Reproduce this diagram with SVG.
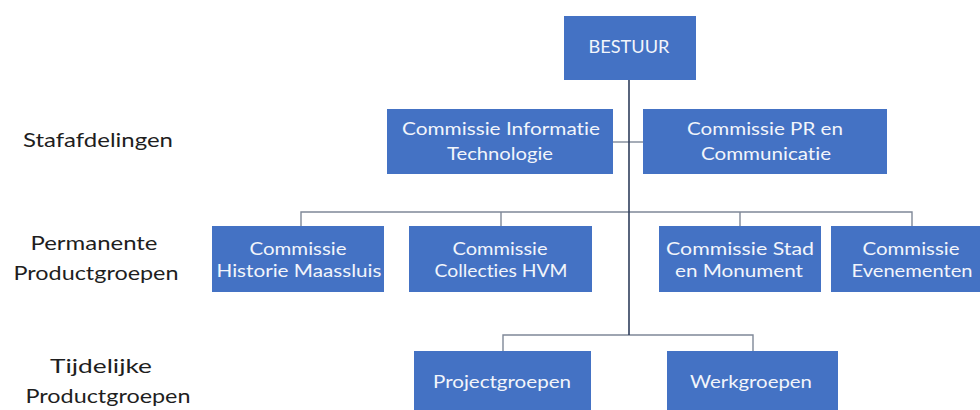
<svg xmlns="http://www.w3.org/2000/svg" width="980" height="410" viewBox="0 0 980 410">
<style>
.box{fill:#4472C4;}
.t{font-family:Lato,"Open Sans","Liberation Sans",sans-serif;font-size:18px;fill:#F2F5FB;text-anchor:middle;font-variant-ligatures:none;}
.lab{font-family:Lato,"Open Sans","Liberation Sans",sans-serif;font-size:20px;fill:#1E1E1E;text-anchor:middle;font-variant-ligatures:none;}
.main{stroke:#2F3E5C;stroke-width:1.6;fill:none;}
.sub{stroke:#7F8898;stroke-width:1.4;fill:none;}
</style>
<rect width="980" height="410" fill="#FFFFFF"/>
<g id="connectors">
<path class="sub" d="M301,226 V212 H912 V226 M501,212 V226 M740,212 V226"/>
<path class="sub" d="M503,351 V335 H753 V351"/>
<path class="sub" d="M613,142 H643"/>
<path class="main" d="M629,80 V335"/>
</g>
<g id="labels">
<text class="lab" x="98" y="147" textLength="150" lengthAdjust="spacingAndGlyphs">Stafafdelingen</text>
<text class="lab" x="94" y="250" textLength="127" lengthAdjust="spacingAndGlyphs">Permanente</text>
<text class="lab" x="96" y="280" textLength="165" lengthAdjust="spacingAndGlyphs">Productgroepen</text>
<text class="lab" x="101" y="373" textLength="102" lengthAdjust="spacingAndGlyphs">Tijdelijke</text>
<text class="lab" x="108" y="403" textLength="165" lengthAdjust="spacingAndGlyphs">Productgroepen</text>
</g>
<g id="bestuur">
<rect class="box" x="564" y="16" width="132" height="64"/>
<text class="t" x="629" y="53" font-size="19" textLength="81" lengthAdjust="spacingAndGlyphs">BESTUUR</text>
</g>
<g id="commissie-it">
<rect class="box" x="387" y="109" width="226" height="65"/>
<text class="t" x="501" y="135" textLength="198" lengthAdjust="spacingAndGlyphs">Commissie Informatie</text>
<text class="t" x="500" y="160" textLength="106" lengthAdjust="spacingAndGlyphs">Technologie</text>
</g>
<g id="commissie-pr">
<rect class="box" x="643" y="109" width="244" height="65"/>
<text class="t" x="765" y="135" textLength="156" lengthAdjust="spacingAndGlyphs">Commissie PR en</text>
<text class="t" x="766" y="160" textLength="130" lengthAdjust="spacingAndGlyphs">Communicatie</text>
</g>
<g id="commissie-historie">
<rect class="box" x="212" y="226" width="172" height="66"/>
<text class="t" x="298" y="255" textLength="97" lengthAdjust="spacingAndGlyphs">Commissie</text>
<text class="t" x="299" y="277" textLength="165" lengthAdjust="spacingAndGlyphs">Historie Maassluis</text>
</g>
<g id="commissie-collecties">
<rect class="box" x="409" y="226" width="183" height="66"/>
<text class="t" x="500" y="255" textLength="95" lengthAdjust="spacingAndGlyphs">Commissie</text>
<text class="t" x="501" y="277" textLength="133" lengthAdjust="spacingAndGlyphs">Collecties HVM</text>
</g>
<g id="commissie-stad">
<rect class="box" x="659" y="226" width="162" height="66"/>
<text class="t" x="740" y="255" textLength="148" lengthAdjust="spacingAndGlyphs">Commissie Stad</text>
<text class="t" x="739" y="277" textLength="128" lengthAdjust="spacingAndGlyphs">en Monument</text>
</g>
<g id="commissie-evenementen">
<rect class="box" x="831" y="226" width="149" height="66"/>
<text class="t" x="911" y="255" textLength="97" lengthAdjust="spacingAndGlyphs">Commissie</text>
<text class="t" x="912" y="277" textLength="121" lengthAdjust="spacingAndGlyphs">Evenementen</text>
</g>
<g id="projectgroepen">
<rect class="box" x="414" y="351" width="177" height="59"/>
<text class="t" x="502" y="388" textLength="138" lengthAdjust="spacingAndGlyphs">Projectgroepen</text>
</g>
<g id="werkgroepen">
<rect class="box" x="667" y="351" width="171" height="59"/>
<text class="t" x="751" y="388" textLength="122" lengthAdjust="spacingAndGlyphs">Werkgroepen</text>
</g>
</svg>
